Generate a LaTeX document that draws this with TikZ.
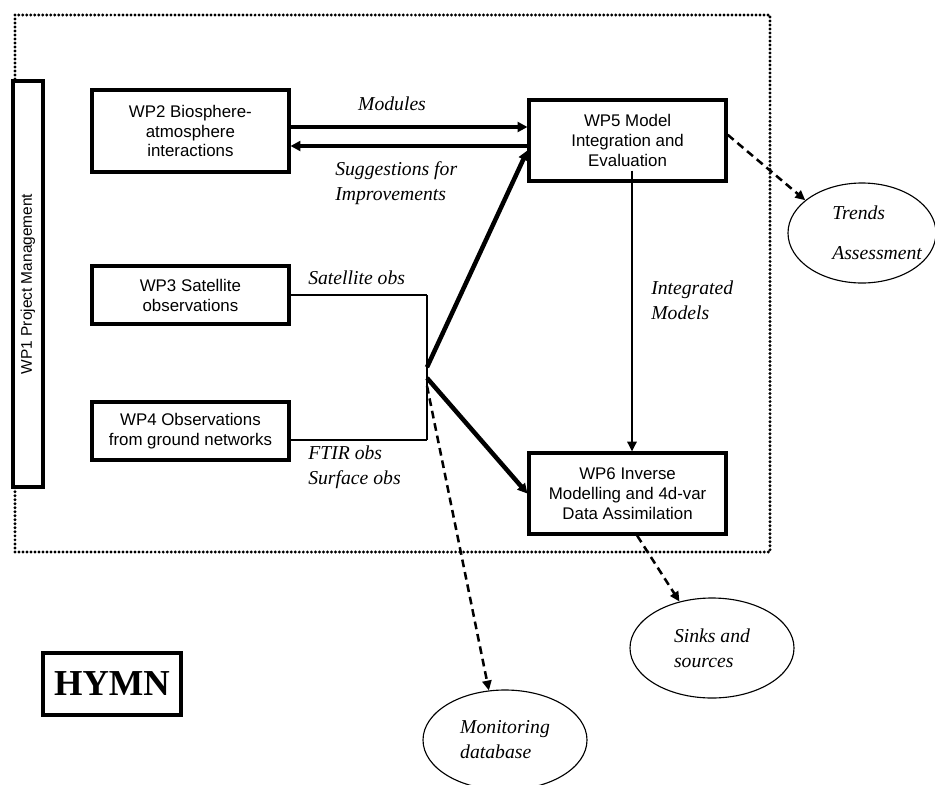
\documentclass[tikz,border=0pt]{standalone}
\usepackage{fontspec}
\setmainfont{Liberation Serif}
\setsansfont{Liberation Sans}
\usetikzlibrary{arrows.meta}
\usetikzlibrary{shapes, positioning, calc}

\begin{document}
\begin{tikzpicture}[
    wpbox/.style={draw,line width=2.3pt,minimum width=4.925cm,minimum height=2.05cm,inner sep=0pt,
        align=center,font=\sffamily\fontsize{12}{14.2}\selectfont},
    flowlabel/.style={inner sep=0pt,align=left,font=\itshape\fontsize{14}{17.7}\selectfont},
    outcome/.style={draw,ellipse,line width=0.8pt,minimum width=4.1cm,minimum height=2.5cm,inner sep=0pt,
        align=left,font=\itshape\fontsize{14}{17.7}\selectfont},
    thickflow/.style={line width=3.2pt,-{Triangle[length=7pt,width=7pt]}},
    thinflow/.style={line width=1.8pt},
    dashflow/.style={line width=1.8pt,dash pattern=on 5.5pt off 3.5pt,-{Triangle[length=7pt,width=6.5pt]}}
]
    \useasboundingbox (0,0) rectangle (23.375,-19.625);
    % project frame
    \draw[line width=2.3pt,line cap=round,dash pattern=on 0pt off 2.85pt] (0.375,-0.375) rectangle (19.25,-13.8);
    \node[draw,fill=white,line width=2.3pt,rotate=90,minimum width=10.15cm,minimum height=0.75cm,inner sep=0pt,
        font=\sffamily\fontsize{11}{13}\selectfont] (wp1) at (0.7,-7.1) {WP1 Project Management};

    % work packages
    \node[wpbox] (wp2) at (4.76,-3.275) {WP2 Biosphere-\\atmosphere\\interactions};
    \node[wpbox,minimum height=1.45cm] (wp3) at (4.76,-7.375) {WP3 Satellite\\observations};
    \node[wpbox,minimum height=1.45cm] (wp4) at (4.76,-10.775) {WP4 Observations\\from ground networks};
    \node[wpbox,minimum height=2.025cm] (wp5) at (15.69,-3.51) {WP5 Model\\Integration and\\Evaluation};
    \node[wpbox,minimum height=2.025cm] (wp6) at (15.69,-12.34) {WP6 Inverse\\Modelling and 4d-var\\Data Assimilation};

    % outcomes
    \node[outcome,minimum width=3.7cm] (trends) at (21.55,-5.825) {};
    \node[flowlabel,anchor=west] (trendslbl) at (20.8,-5.825) {Trends\\[10.8pt]Assessment};
    \node[outcome] (sinks) at (17.8,-16.2) {Sinks and\\sources};
    \node[outcome] (monitor) at (12.625,-18.5) {Monitoring\\database};
    \node[draw,line width=2.8pt,minimum width=3.45cm,minimum height=1.55cm,inner sep=0pt,
        font=\bfseries\fontsize{26}{30}\selectfont] (hymn) at (2.8,-17.1) {HYMN};

    % WP2 <-> WP5
    \coordinate (modout) at ([yshift=0.1cm]wp2.east);
    \coordinate (sugin) at ([yshift=-0.375cm]wp2.east);
    \draw[thickflow] (modout) -- (modout -| wp5.west);
    \draw[thickflow] (sugin -| wp5.west) -- (sugin);
    \node[flowlabel] (modlbl) at (9.8,-2.6) {Modules};
    \node[flowlabel,anchor=west] (suglbl) at (8.375,-4.575) {Suggestions for\\Improvements};

    % observations
    \coordinate (hub) at (10.675,-9.3);
    \coordinate (satend) at (wp3.east -| hub);
    \coordinate (ftirstart) at ([yshift=-0.225cm]wp4.east);
    \coordinate (ftirend) at (ftirstart -| hub);
    \draw[thinflow] (wp3.east) -- (satend);
    \draw[thinflow] (ftirstart) -- (ftirend);
    \draw[thinflow] (satend) -- (ftirend);
    \node[flowlabel,anchor=west] (satlbl) at (7.7,-6.95) {Satellite obs};
    \node[flowlabel,anchor=west] (ftirlbl) at (7.7,-11.675) {FTIR obs\\Surface obs};
    \draw[thickflow] ([yshift=0.12cm]hub) -- ([yshift=-0.25cm]wp5.west);
    \draw[thickflow] ([yshift=-0.15cm]hub) -- (wp6.west);

    % WP5 -> WP6
    \draw[thinflow,-{Triangle[length=7pt,width=6.5pt]}] ([xshift=0.11cm,yshift=0.3cm]wp5.south) -- ([xshift=0.11cm]wp6.north);
    \node[flowlabel,anchor=west] (intlbl) at (16.275,-7.5) {Integrated\\Models};

    % products
    \draw[dashflow] ([yshift=0.14cm]wp5.east) -- (trends.150);
    \draw[dashflow] ([xshift=0.24cm]wp6.south) -- (sinks.125);
    \draw[dashflow] ([yshift=-0.35cm]hub) -- (monitor.108);
\end{tikzpicture}
\end{document}
